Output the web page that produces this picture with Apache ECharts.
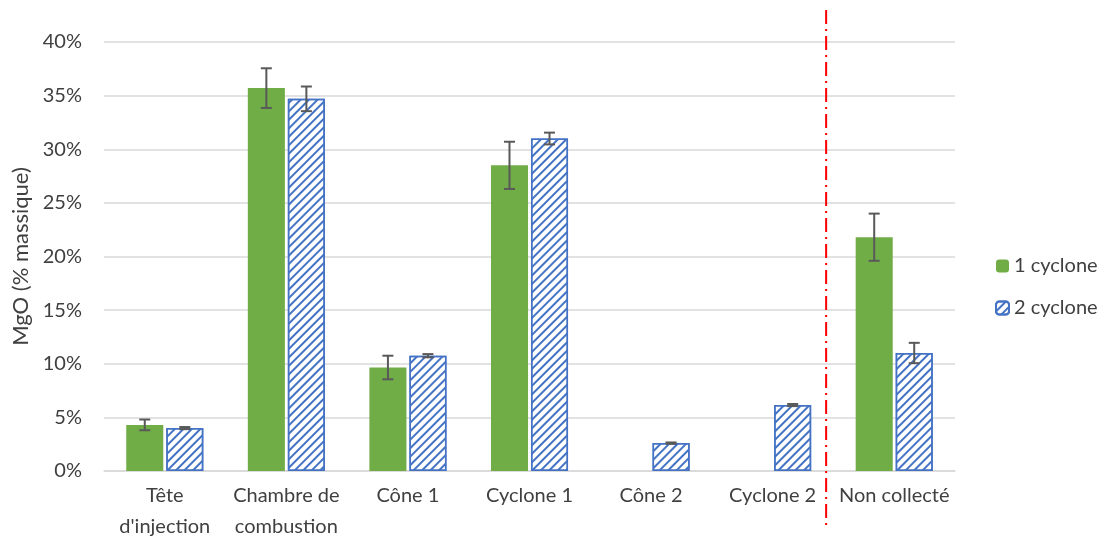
<!DOCTYPE html>
<html><head><meta charset="utf-8">
<script src="https://cdn.jsdelivr.net/npm/echarts@6/dist/echarts.min.js"></script>
<style>html,body{margin:0;padding:0;background:#fff}#c{width:1105px;height:542px}</style>
</head><body><div id="c"></div>
<script>
const categories = ["Tête\nd'injection", "Chambre de\ncombustion", "Cône 1", "Cyclone 1", "Cône 2", "Cyclone 2", "Non collecté"];
const oneCyclone = [4.3, 35.7, 9.65, 28.5, null, null, 21.8];
const oneCycloneErr = [0.5, 1.85, 1.1, 2.2, null, null, 2.2];
const twoCyclone = [4.0, 34.7, 10.75, 31.0, 2.6, 6.15, 11.0];
const twoCycloneErr = [0.1, 1.15, 0.15, 0.55, 0.06, 0.1, 0.95];
const seriesNames = ["1 cyclone", "2 cyclone"];
const separatorPos = 5.94; // between Cyclone 2 and Non collecté

const chart = echarts.init(document.getElementById('c'));
const FONT = 'Lato';
const BAR_CAT_GAP = 0.366, BAR_GAP = 0.08;

function errSeries(vals, errs, side) {
  return {
    type: 'custom',
    xAxisIndex: 0, yAxisIndex: 0,
    z: 10,
    silent: true,
    data: vals.map((v, i) => v == null ? null : [i, v - errs[i], v + errs[i]]).filter(d => d),
    renderItem: function (params, api) {
      const band = api.size([1, 0])[0];
      const bw = band * (1 - BAR_CAT_GAP) / (2 + BAR_GAP);
      const off = side * (bw * (1 + BAR_GAP)) / 2;
      const lo = api.coord([api.value(0), api.value(1)]);
      const hi = api.coord([api.value(0), api.value(2)]);
      const x = lo[0] + off;
      const cap = 5.5;
      const st = { stroke: '#595959', lineWidth: 2 };
      return { type: 'group', children: [
        { type: 'line', shape: { x1: x, y1: hi[1], x2: x, y2: lo[1] }, style: st },
        { type: 'line', shape: { x1: x - cap, y1: hi[1], x2: x + cap, y2: hi[1] }, style: st },
        { type: 'line', shape: { x1: x - cap, y1: lo[1], x2: x + cap, y2: lo[1] }, style: st }
      ]};
    }
  };
}

const option = {
  animation: false,
  textStyle: { fontFamily: FONT },
  grid: { left: 104, right: 150, top: 42, bottom: 69 },
  legend: {
    orient: 'vertical', left: 995, top: 256, padding: 0,
    itemWidth: 13, itemHeight: 13, itemGap: 22,
    textStyle: { fontFamily: FONT, fontSize: 20, lineHeight: 20, color: '#404040' },
    data: seriesNames
  },
  xAxis: [{
    type: 'category', data: categories,
    axisLine: { lineStyle: { color: '#d9d9d9', width: 1.5 } },
    axisTick: { show: false },
    axisLabel: { color: '#404040', fontSize: 20, fontFamily: FONT, lineHeight: 31, margin: 9, interval: 0 }
  }, {
    type: 'value', min: 0, max: 7, show: false
  }],
  yAxis: {
    type: 'value', min: 0, max: 40, interval: 5,
    name: 'MgO (% massique)', nameLocation: 'middle', nameGap: 71,
    nameTextStyle: { color: '#404040', fontSize: 22, fontFamily: FONT },
    axisLine: { show: false }, axisTick: { show: false },
    axisLabel: { formatter: '{value}%', color: '#404040', fontSize: 20, fontFamily: FONT, margin: 22 },
    splitLine: { lineStyle: { color: '#d9d9d9', width: 1.5 } }
  },
  series: [
    {
      name: seriesNames[0], type: 'bar', data: oneCyclone,
      barCategoryGap: (BAR_CAT_GAP * 100) + '%', barGap: (BAR_GAP * 100) + '%',
      itemStyle: { color: '#70ad47' }
    },
    {
      name: seriesNames[1], type: 'bar', data: twoCyclone,
      barCategoryGap: (BAR_CAT_GAP * 100) + '%', barGap: (BAR_GAP * 100) + '%',
      itemStyle: {
        color: '#ffffff', borderColor: '#4472c4', borderWidth: 1.5,
        decal: { symbol: 'rect', symbolSize: 1, color: '#4472c4', dashArrayX: [1, 0], dashArrayY: [2, 3.5], rotation: -Math.PI / 4 }
      }
    },
    errSeries(oneCyclone, oneCycloneErr, -1),
    errSeries(twoCyclone, twoCycloneErr, 1)
  ]
};
chart.setOption(option);

const sx = chart.convertToPixel({ xAxisIndex: 1 }, separatorPos);
chart.setOption({
  graphic: [{
    type: 'line', silent: true, z: 100,
    shape: { x1: sx, y1: 10, x2: sx, y2: 527 },
    style: { stroke: '#ff0000', lineWidth: 2, lineDash: [14, 5, 2, 5] }
  }]
});
</script></body></html>
